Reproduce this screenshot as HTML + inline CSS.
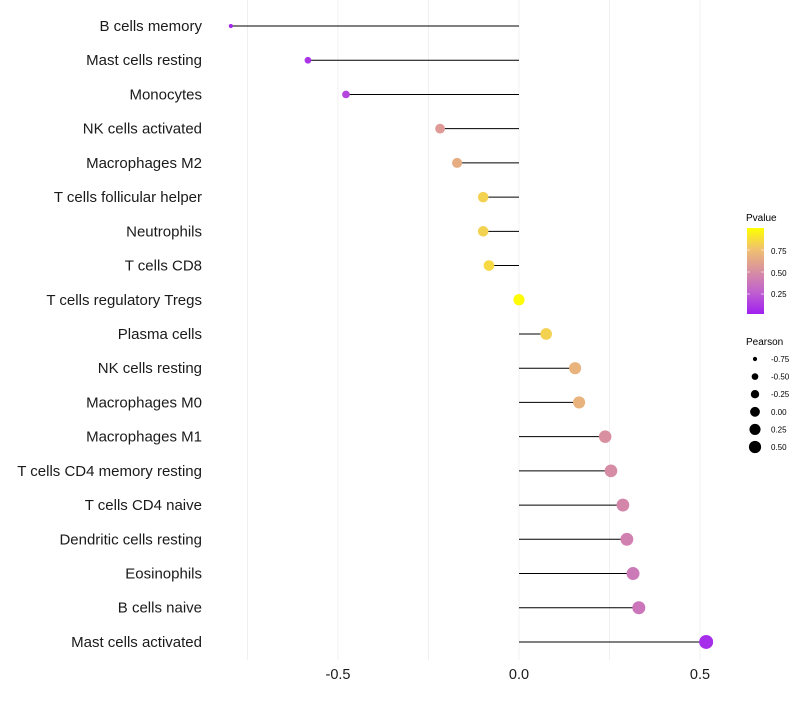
<!DOCTYPE html>
<html><head><meta charset="utf-8"><style>
body{margin:0;background:#fff;font-family:"Liberation Sans",sans-serif}
</style></head><body>
<svg id="c" width="800" height="700" xmlns="http://www.w3.org/2000/svg">
<defs><linearGradient id="pg" x1="0" y1="1" x2="0" y2="0">
<stop offset="0" stop-color="#a020f0"/><stop offset="0.25" stop-color="#c060d0"/><stop offset="0.5" stop-color="#d890a0"/><stop offset="0.75" stop-color="#f0c070"/><stop offset="1" stop-color="#ffff00"/></linearGradient></defs>
<g id="grid"></g>
<g id="marks"></g>
<g id="ylab"></g>
<g id="xlab"></g>
<g>
<text x="746" y="221" font-size="10">Pvalue</text>
<rect x="747" y="228" width="17" height="86" fill="url(#pg)"/>
<line x1="747" x2="750" y1="250" y2="250" stroke="#fff" stroke-opacity="0.6"/><line x1="761" x2="764" y1="250" y2="250" stroke="#fff" stroke-opacity="0.6"/>
<line x1="747" x2="750" y1="272" y2="272" stroke="#fff" stroke-opacity="0.6"/><line x1="761" x2="764" y1="272" y2="272" stroke="#fff" stroke-opacity="0.6"/>
<line x1="747" x2="750" y1="294" y2="294" stroke="#fff" stroke-opacity="0.6"/><line x1="761" x2="764" y1="294" y2="294" stroke="#fff" stroke-opacity="0.6"/>
<text x="771" y="254" font-size="8">0.75</text>
<text x="771" y="276" font-size="8">0.50</text>
<text x="771" y="297" font-size="8">0.25</text>
</g>
<g id="sleg">
<text x="746" y="345" font-size="10">Pearson</text>
</g>
</svg>
<script>
const categories=["B cells memory","Mast cells resting","Monocytes","NK cells activated","Macrophages M2","T cells follicular helper","Neutrophils","T cells CD8","T cells regulatory  Tregs ","Plasma cells","NK cells resting","Macrophages M0","Macrophages M1","T cells CD4 memory resting","T cells CD4 naive","Dendritic cells resting","Eosinophils","B cells naive","Mast cells activated"];
const pearson=[-0.796,-0.583,-0.478,-0.218,-0.171,-0.099,-0.099,-0.083,0.0,0.075,0.155,0.166,0.238,0.254,0.287,0.298,0.315,0.331,0.517];
const pvalue=[0.02,0.08,0.15,0.55,0.65,0.82,0.82,0.85,0.99,0.82,0.68,0.68,0.5,0.48,0.45,0.42,0.38,0.36,0.05];
const xTicks=[-0.5,0,0.5];
const xTickLabels=["-0.5","0.0","0.5"];
const minorTicks=[-0.75,-0.25,0.25];
const sizeLegend=[-0.75,-0.5,-0.25,0,0.25,0.5];
const sizeLegendLabels=["-0.75","-0.50","-0.25","0.00","0.25","0.50"];
const NS="http://www.w3.org/2000/svg";
const xs=v=>519+v*362;
const ys=i=>26+i*34.22;
const rs=v=>Math.sqrt(Math.max(1,4+34*(v+0.8)));
const stops=[[0,[160,32,240]],[0.25,[192,96,208]],[0.5,[216,144,160]],[0.75,[240,192,112]],[1,[255,255,0]]];
function col(p){for(let k=0;k<stops.length-1;k++){const a=stops[k],b=stops[k+1];if(p<=b[0]){const t=(p-a[0])/(b[0]-a[0]);return "rgb("+a[1].map((c,j)=>Math.round(c+(b[1][j]-c)*t)).join(",")+")";}}return "rgb(255,255,0)";}
function mk(tag,at,parent){const e=document.createElementNS(NS,tag);for(const k in at)e.setAttribute(k,at[k]);parent.appendChild(e);return e;}
const g=document.getElementById("grid"),m=document.getElementById("marks"),yl=document.getElementById("ylab"),xl=document.getElementById("xlab"),sl=document.getElementById("sleg");
minorTicks.concat(xTicks).forEach(v=>{const l=mk("line",{x1:xs(v),x2:xs(v),y1:0,y2:660,stroke:"#f0f0f0","stroke-width":1},g);

});
categories.forEach((c,i)=>{
const ln=mk("line",{x1:xs(0),x2:xs(pearson[i]),y1:ys(i),y2:ys(i),stroke:"#000","stroke-width":1},m);


const ci=mk("circle",{cx:xs(pearson[i]),cy:ys(i),r:rs(pearson[i]),fill:col(pvalue[i])},m);


const t=mk("text",{x:202,y:ys(i)+5,"text-anchor":"end","font-size":15,fill:"#1a1a1a"},yl);t.textContent=c;


});
xTicks.forEach((v,i)=>{const t=mk("text",{x:xs(v),y:679,"text-anchor":"middle","font-size":14.5,fill:"#1a1a1a"},xl);t.textContent=xTickLabels[i];

});
sizeLegend.forEach((v,i)=>{const y=359+i*17.6;
const c=mk("circle",{cx:755,cy:y,r:rs(v)*0.88,fill:"#000"},sl);


const t=mk("text",{x:771,y:y+3,"font-size":8},sl);t.textContent=sizeLegendLabels[i];

});
</script>
</body></html>
